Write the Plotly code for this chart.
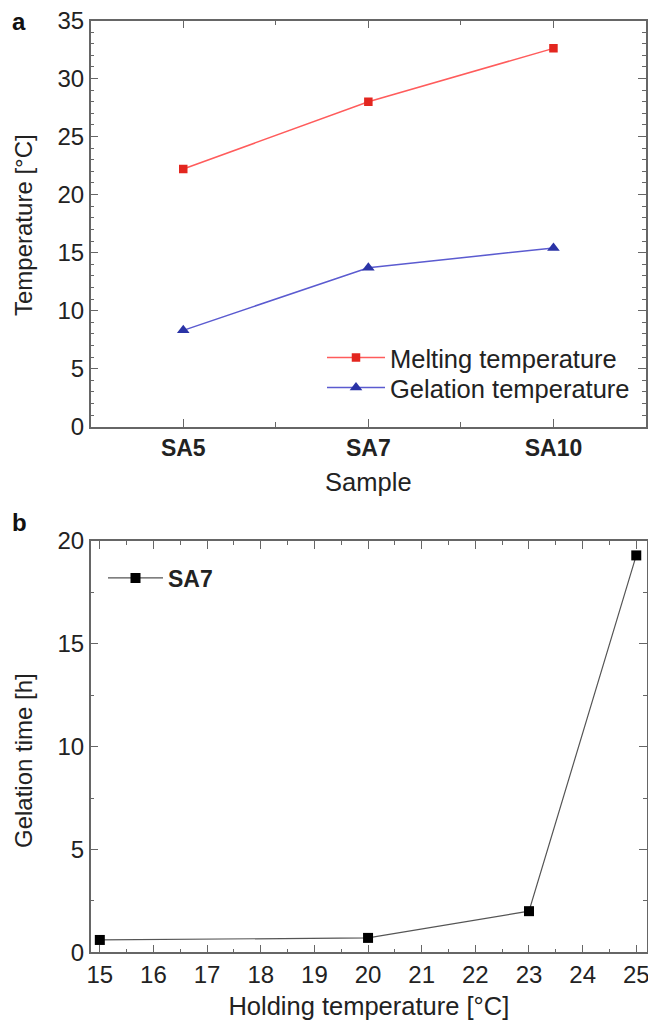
import plotly.graph_objects as go

# ---- data ----
samples = ["SA5", "SA7", "SA10"]
melting_temp = [22.2, 28.0, 32.6]
gelation_temp = [8.3, 13.7, 15.4]

holding_temp = [15, 20, 23, 25]
gelation_time = [0.6, 0.7, 2.0, 19.3]

W, H = 648, 1020
FONT = "Liberation Sans, Arial, sans-serif"
AXC = "#666666"
TXT = "#222222"

def px_x(p):
    return p / W

def px_y(p):
    return 1 - p / H

x_idx = list(range(len(samples)))
mids = [(a + b) / 2 for a, b in zip(x_idx[:-1], x_idx[1:])]

fig = go.Figure()
fig.add_trace(go.Scatter(
    x=x_idx, y=melting_temp, name="Melting temperature", mode="lines+markers",
    line=dict(color="#ff5c5c", width=1.5),
    marker=dict(symbol="square", size=8.5, color="#e3261f"),
    xaxis="x", yaxis="y", legend="legend"))
fig.add_trace(go.Scatter(
    x=x_idx, y=gelation_temp, name="Gelation temperature", mode="lines+markers",
    line=dict(color="#5b5bd0", width=1.5),
    marker=dict(symbol="triangle-up", size=11, color="#2a33a6"),
    xaxis="x", yaxis="y", legend="legend3"))
fig.add_trace(go.Scatter(
    x=holding_temp, y=gelation_time, name="<b>SA7</b>", mode="lines+markers",
    line=dict(color="#555555", width=1.2),
    marker=dict(symbol="square", size=10, color="#000000"),
    xaxis="x2", yaxis="y2", legend="legend2", cliponaxis=False))

axis_common = dict(
    automargin=False,
    showline=True, linecolor=AXC, linewidth=1.5, mirror="ticks",
    ticks="inside", tickcolor=AXC, tickwidth=1.2, ticklen=8,
    showgrid=False, zeroline=False,
    tickfont=dict(family=FONT, size=24, color=TXT),
    title_font=dict(family=FONT, size=25.5, color=TXT),
)

legend_common = dict(
    xanchor="left", yanchor="middle",
    bgcolor="rgba(0,0,0,0)", borderwidth=0,
    font=dict(family=FONT, size=25.5, color=TXT),
    itemwidth=58,
)

fig.update_layout(
    template="none",
    width=W, height=H,
    margin=dict(l=0, r=0, t=0, b=0, autoexpand=False),
    paper_bgcolor="white", plot_bgcolor="white",
    showlegend=True,
    xaxis=dict(
        domain=[px_x(90.7), px_x(646)], anchor="y",
        range=[-0.5, 2.5],
        tickmode="array", tickvals=x_idx, ticktext=samples,
        tickfont=dict(family=FONT, size=23, color=TXT, weight="bold"),
        minor=dict(tickmode="array", tickvals=mids, ticks="inside",
                   ticklen=5, tickcolor=AXC, tickwidth=1.2),
        title=dict(text="Sample", standoff=13),
        **{k: v for k, v in axis_common.items() if k != "tickfont"}),
    yaxis=dict(
        domain=[px_y(426.7), px_y(20.5)], anchor="x",
        range=[0, 35], dtick=5, tick0=0,
        minor=dict(dtick=1, ticks="inside", ticklen=4, tickcolor=AXC, tickwidth=1.2),
        **axis_common),
    xaxis2=dict(
        domain=[px_x(90.7), px_x(647)], anchor="y2",
        range=[14.83, 25.2], dtick=1, tick0=15,
        ticklabeloverflow="allow",
        minor=dict(dtick=0.5, ticks="inside", ticklen=4, tickcolor=AXC, tickwidth=1.2),
        title=dict(text="Holding temperature [°C]", standoff=10),
        **axis_common),
    yaxis2=dict(
        domain=[px_y(952.3), px_y(541)], anchor="x2",
        range=[0, 20], dtick=5, tick0=0,
        minor=dict(dtick=2.5, ticks="inside", ticklen=4, tickcolor=AXC, tickwidth=1.2),
        **axis_common),
    legend=dict(x=px_x(322), y=px_y(358), **legend_common),
    legend3=dict(x=px_x(322), y=px_y(388), **legend_common),
    legend2=dict(
        x=px_x(103), y=px_y(578), xanchor="left", yanchor="middle",
        bgcolor="rgba(0,0,0,0)", borderwidth=0,
        font=dict(family=FONT, size=23, color=TXT),
        itemwidth=55),
    annotations=[
        dict(text="<b>a</b>", x=px_x(10), y=px_y(21), xref="paper", yref="paper",
             xanchor="left", yanchor="middle", showarrow=False,
             font=dict(family=FONT, size=24, color="#111")),
        dict(text="<b>b</b>", x=px_x(10), y=px_y(522), xref="paper", yref="paper",
             xanchor="left", yanchor="middle", showarrow=False,
             font=dict(family=FONT, size=24, color="#111")),
        dict(text="Temperature [°C]", x=px_x(23), y=px_y(225), xref="paper", yref="paper",
             xanchor="center", yanchor="middle", textangle=-90, showarrow=False,
             font=dict(family=FONT, size=24, color=TXT)),
        dict(text="Gelation time [h]", x=px_x(23), y=px_y(761), xref="paper", yref="paper",
             xanchor="center", yanchor="middle", textangle=-90, showarrow=False,
             font=dict(family=FONT, size=24, color=TXT)),
    ],
)

fig.write_html(
    "out.html",
    config={"displayModeBar": False},
    post_script="document.body.style.margin='0';document.body.style.overflow='hidden';",
)
